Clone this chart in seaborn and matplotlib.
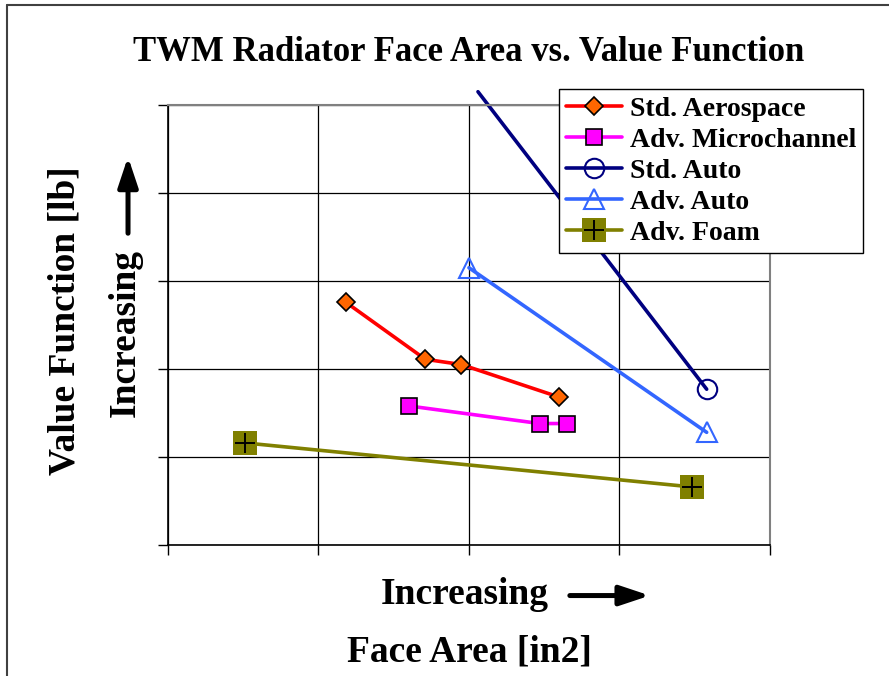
import matplotlib
matplotlib.use("Agg")
import matplotlib.pyplot as plt
from matplotlib.lines import Line2D
import pandas as pd
import seaborn as sns

# values (arbitrary units, axes have no numbers)
aero_x = [1.18, 1.71, 1.95, 2.60]
aero_y = [2.76, 2.11, 2.05, 1.68]
micro_x = [1.60, 2.47, 2.65]
micro_y = [1.58, 1.38, 1.38]
std_auto_x = [2.06, 3.58]
std_auto_y = [5.15, 1.77]
adv_auto_x = [2.00, 3.58]
adv_auto_y = [3.15, 1.28]
foam_x = [0.51, 3.48]
foam_y = [1.16, 0.66]

sns.set_style("white")
plt.rcParams['font.family'] = ['Liberation Serif', 'DejaVu Serif']
plt.rcParams['font.weight'] = 'bold'
plt.rcParams['text.color'] = 'black'

fig = plt.figure(figsize=(8.89, 6.76), dpi=100)
ax = fig.add_axes([0.189, 0.1938, 0.677, 0.651])


def draw(xs, ys, label, color, marker, ms, mfc, mec, mew=1.2, **kw):
    df = pd.DataFrame({'x': xs, 'y': ys})
    sns.lineplot(data=df, x='x', y='y', ax=ax, sort=False, color=color, lw=2.6,
                 marker=marker, markersize=ms, markerfacecolor=mfc,
                 markeredgecolor=mec, markeredgewidth=mew, label=label, **kw)


draw(aero_x, aero_y, 'Std. Aerospace', '#FF0000', 'D', 9.5, '#FF6600', 'black')
draw(micro_x, micro_y, 'Adv. Microchannel', '#FF00FF', 's', 12, '#FF00FF', 'black')
draw(std_auto_x, std_auto_y, 'Std. Auto', '#000080', 'o', 14, 'none', '#000080',
     mew=1.5, clip_on=False, markevery=[1])
draw(adv_auto_x, adv_auto_y, 'Adv. Auto', '#3366FF', '^', 15, 'none', '#3366FF', mew=1.5)
draw(foam_x, foam_y, 'Adv. Foam', '#808000', 's', 17, '#808000', '#808000', mew=0)
plus = ax.plot(foam_x, foam_y, ls='none', marker='+', ms=15, mew=1.4,
               color='black', label='_nolegend_')[0]

ax.set_xlim(0, 4)
ax.set_ylim(0, 5)
ax.set_xticks([0, 1, 2, 3, 4])
ax.set_yticks([0, 1, 2, 3, 4, 5])
ax.set_xticklabels([])
ax.set_yticklabels([])
ax.set_xlabel('')
ax.set_ylabel('')
ax.grid(True, color='black', lw=0.9)
ax.tick_params(axis='both', direction='out', length=7.5, width=1, color='black',
               bottom=True, left=True)
for side in ['left', 'bottom']:
    ax.spines[side].set_color('black')
    ax.spines[side].set_linewidth(1.2)
for side in ['top', 'right']:
    ax.spines[side].set_color('#808080')
    ax.spines[side].set_linewidth(1.5)

handles, labels = ax.get_legend_handles_labels()
handles[-1] = (handles[-1], Line2D([], [], ls='none', marker='+', ms=15, mew=1.4, color='black'))
leg = ax.legend(handles, labels, loc='upper right', bbox_to_anchor=(0.971, 0.868),
                bbox_transform=fig.transFigure, fancybox=False, framealpha=1,
                edgecolor='black', fontsize=20, handlelength=2.0,
                borderpad=0.25, labelspacing=0.2, handletextpad=0.3, borderaxespad=0)
leg.get_frame().set_linewidth(1.0)
for t in leg.get_texts():
    t.set_fontweight('bold')

fig.text(0.527, 0.922, 'TWM Radiator Face Area vs. Value Function', ha='center',
         va='center', fontsize=25, fontweight='bold')
fig.text(0.523, 0.121, 'Increasing', ha='center', va='center', fontsize=27, fontweight='bold')
fig.text(0.528, 0.036, 'Face Area [in2]', ha='center', va='center', fontsize=27, fontweight='bold')
fig.text(0.073, 0.525, 'Value Function [lb]', ha='center', va='center', rotation=90,
         fontsize=27, fontweight='bold')
fig.text(0.141, 0.508, 'Increasing', ha='center', va='center', rotation=90,
         fontsize=27, fontweight='bold')

arrow = dict(arrowstyle='-|>,head_length=1.8,head_width=0.6', color='black', lw=3.6,
             shrinkA=0, shrinkB=0)
fig.add_artist(plt.Annotation('', xy=(0.731, 0.119), xytext=(0.641, 0.119),
                              xycoords='figure fraction', arrowprops=arrow))
fig.add_artist(plt.Annotation('', xy=(0.144, 0.768), xytext=(0.144, 0.655),
                              xycoords='figure fraction', arrowprops=arrow))

# outer chart border (left and top edges visible)
fig.add_artist(Line2D([0.008, 0.008], [0, 0.993], color='#404040', lw=1.5,
                      transform=fig.transFigure))
fig.add_artist(Line2D([0.008, 1.0], [0.993, 0.993], color='#404040', lw=1.5,
                      transform=fig.transFigure))

fig.savefig('out.png', dpi=100)
